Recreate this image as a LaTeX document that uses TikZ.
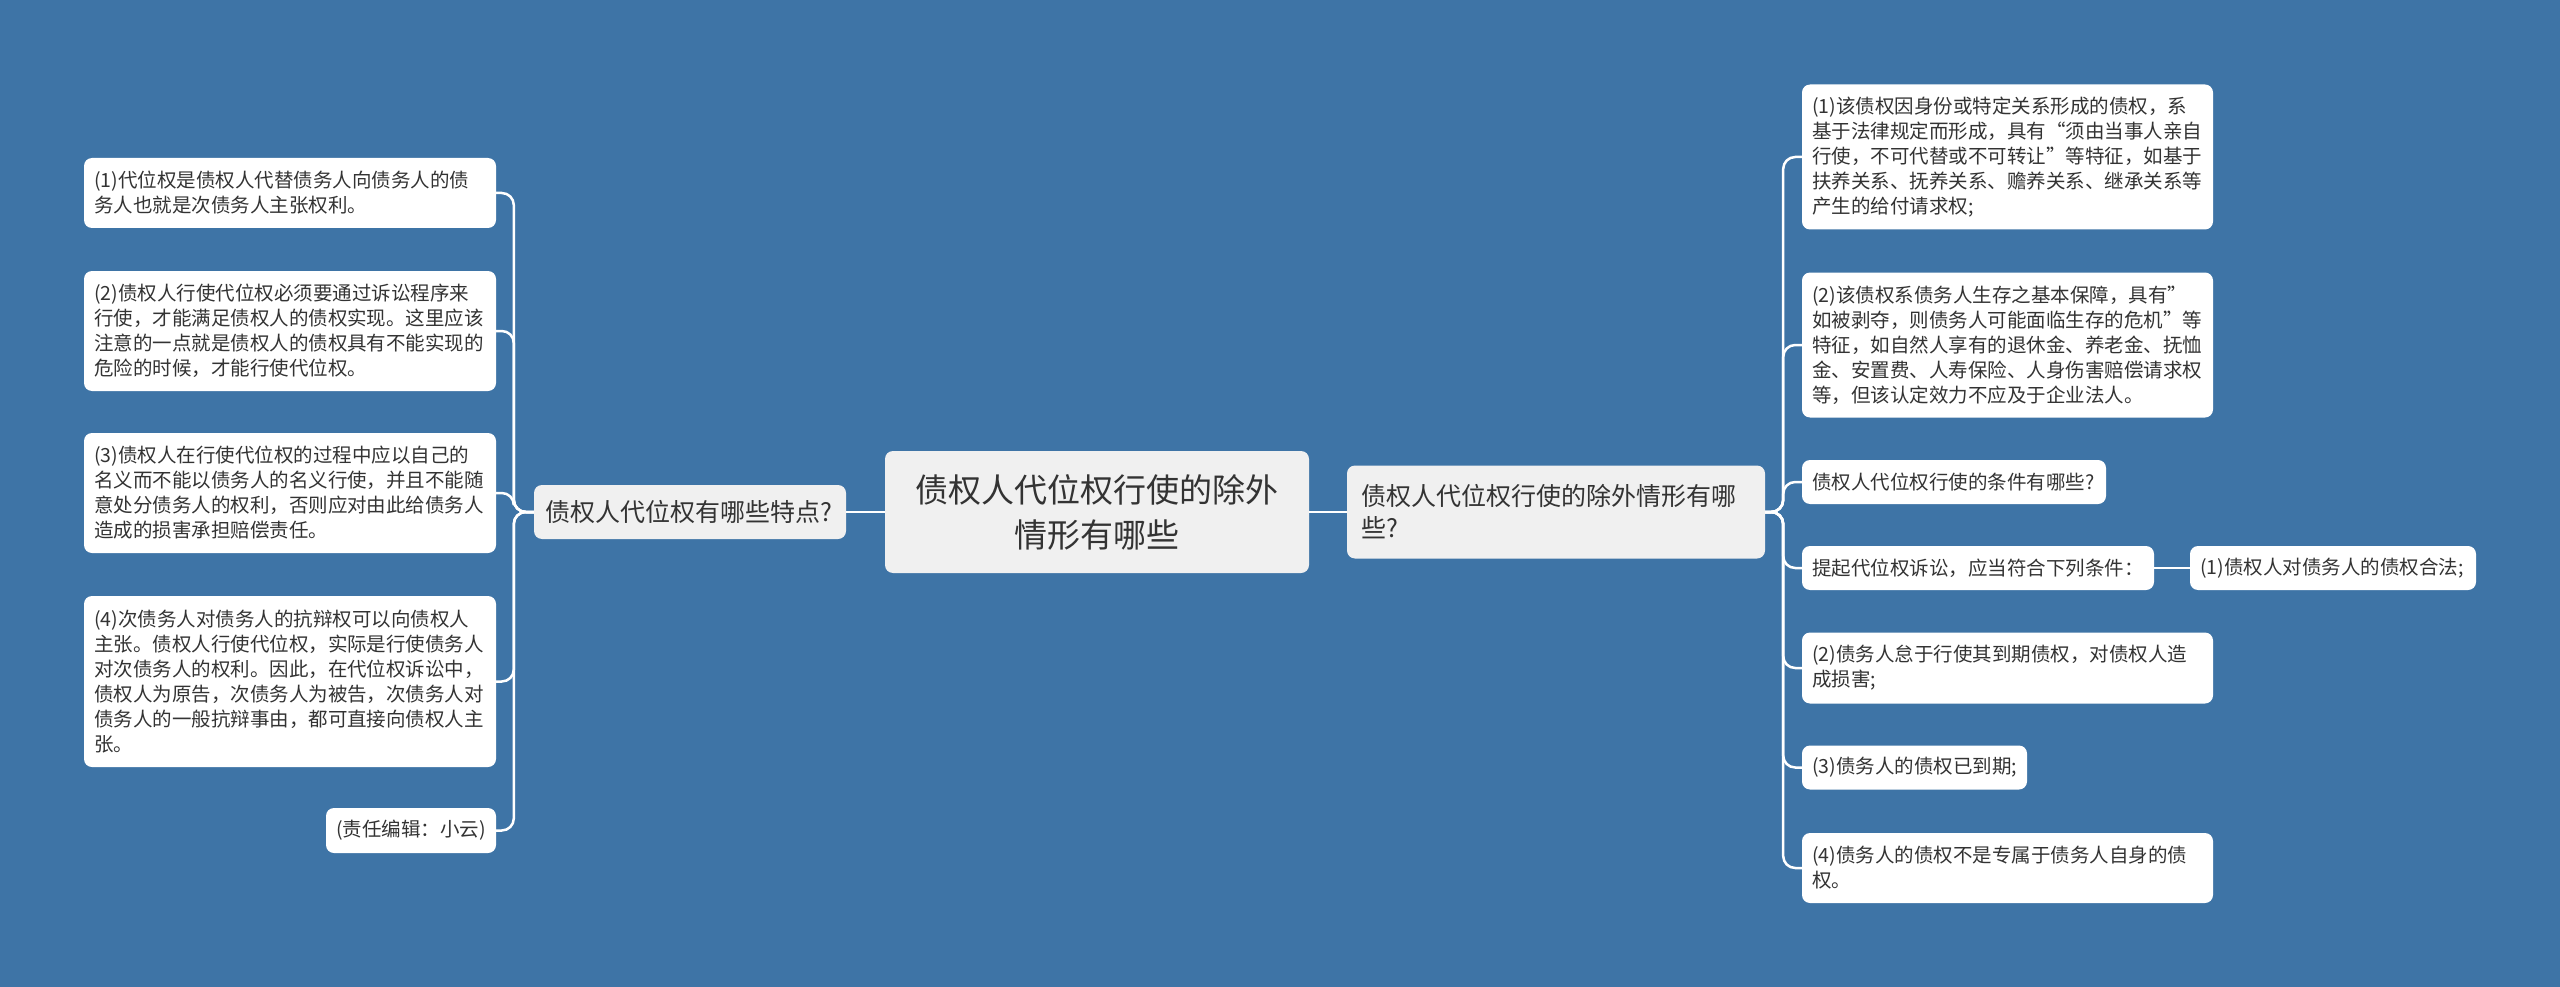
\documentclass[tikz,border=0pt]{standalone}
\usepackage{fontspec}
\setmainfont{Noto Sans CJK SC}
\definecolor{bg}{RGB}{62,116,166}
\definecolor{txt}{RGB}{51,51,51}
\definecolor{midfill}{RGB}{240,240,240}
\tikzset{
  box/.style={rounded corners=8pt, inner xsep=10pt, inner ysep=0pt, align=left, text=txt, anchor=center},
  leaf/.style={box, fill=white, font=\fontsize{19.5}{25}\selectfont},
  midbox/.style={box, fill=midfill, font=\fontsize{25}{32}\selectfont},
  rootbox/.style={box, fill=midfill, align=center, font=\fontsize{33}{45}\selectfont},
  conn/.style={draw=white, line width=2.5pt, rounded corners=12pt},
}
\begin{document}
\begin{tikzpicture}[x=1pt,y=-1pt]
\fill[bg] (0,0) rectangle (2560,987);
\useasboundingbox (0,0) rectangle (2560,987);

% root
\node[rootbox, text width=404pt, minimum height=122pt] (root) at (1097,512) {债权人代位权行使的除外\\情形有哪些};

% mid nodes
\node[midbox, inner xsep=11pt, text width=290pt, minimum height=54pt] (lm) at (690,512) {债权人代位权有哪些特点?};
\node[midbox, inner xsep=14pt, text width=390pt, minimum height=93pt] (rm) at (1556,512) {债权人代位权行使的除外情形有哪\\些?};

% left leaves
\node[leaf, text width=392pt, minimum height=70pt] (L1) at (290,193) {(1)代位权是债权人代替债务人向债务人的债\\务人也就是次债务人主张权利。};
\node[leaf, text width=392pt, minimum height=120pt] (L2) at (290,331) {(2)债权人行使代位权必须要通过诉讼程序来\\行使，才能满足债权人的债权实现。这里应该\\注意的一点就是债权人的债权具有不能实现的\\危险的时候，才能行使代位权。};
\node[leaf, text width=392pt, minimum height=120pt] (L3) at (290,493) {(3)债权人在行使代位权的过程中应以自己的\\名义而不能以债务人的名义行使，并且不能随\\意处分债务人的权利，否则应对由此给债务人\\造成的损害承担赔偿责任。};
\node[leaf, text width=392pt, minimum height=171pt] (L4) at (290,681.5) {(4)次债务人对债务人的抗辩权可以向债权人\\主张。债权人行使代位权，实际是行使债务人\\对次债务人的权利。因此，在代位权诉讼中，\\债权人为原告，次债务人为被告，次债务人对\\债务人的一般抗辩事由，都可直接向债权人主\\张。};
\node[leaf, text width=150pt, minimum height=45pt] (L5) at (411,830.5) {(责任编辑：小云)};

% right leaves
\node[leaf, text width=391pt, minimum height=145pt] (R1) at (2007.5,157) {(1)该债权因身份或特定关系形成的债权，系\\基于法律规定而形成，具有“须由当事人亲自\\行使，不可代替或不可转让”等特征，如基于\\扶养关系、抚养关系、赡养关系、继承关系等\\产生的给付请求权;};
\node[leaf, text width=391pt, minimum height=145pt] (R2) at (2007.5,345) {(2)该债权系债务人生存之基本保障，具有”\\如被剥夺，则债务人可能面临生存的危机”等\\特征，如自然人享有的退休金、养老金、抚恤\\金、安置费、人寿保险、人身伤害赔偿请求权\\等，但该认定效力不应及于企业法人。};
\node[leaf, text width=284pt, minimum height=44pt] (R3) at (1954,482) {债权人代位权行使的条件有哪些?};
\node[leaf, text width=332pt, minimum height=44pt] (R4) at (1978,568) {提起代位权诉讼，应当符合下列条件：};
\node[leaf, text width=266pt, minimum height=44pt] (R4a) at (2333,568) {(1)债权人对债务人的债权合法;};
\node[leaf, text width=391pt, minimum height=71pt] (R5) at (2007.5,668) {(2)债务人怠于行使其到期债权，对债权人造\\成损害;};
\node[leaf, text width=205pt, minimum height=44pt] (R6) at (1914.5,767.5) {(3)债务人的债权已到期;};
\node[leaf, text width=391pt, minimum height=70pt] (R7) at (2007.5,868) {(4)债务人的债权不是专属于债务人自身的债\\权。};

% connectors
\draw[conn] (root.west) -- (lm.east);
\draw[conn] (root.east) -- (rm.west);
\foreach \n in {L1,L2,L3,L4,L5}
  \draw[conn] (lm.west) -- ++(-20,0) |- (\n.east);
\foreach \n in {R1,R2,R3,R4,R5,R6,R7}
  \draw[conn] (rm.east) -- ++(18,0) |- (\n.west);
\draw[conn] (R4.east) -- (R4a.west);
\end{tikzpicture}
\end{document}
